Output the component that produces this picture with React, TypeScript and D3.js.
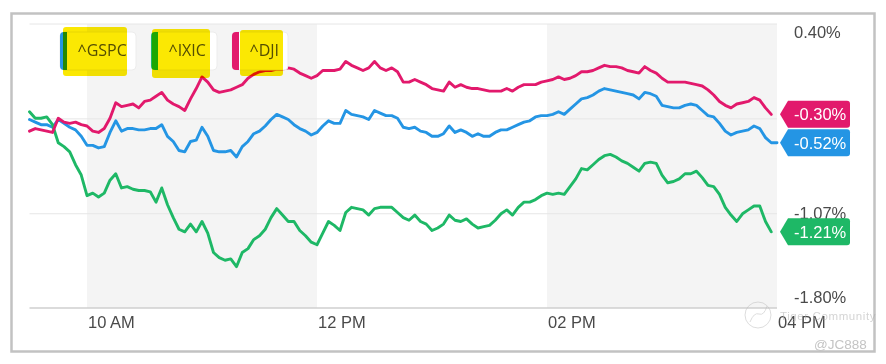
import * as d3 from 'd3';

// intraday % change, one reading every 3 minutes from 9:30
const minutes = d3.range(0, 391, 3);

const gspc = [
  -0.34, -0.36, -0.38, -0.38, -0.40, -0.34, -0.37, -0.40, -0.42, -0.47,
  -0.54, -0.54, -0.56, -0.55, -0.44, -0.35, -0.43, -0.41, -0.41, -0.42,
  -0.42, -0.41, -0.41, -0.38, -0.47, -0.51, -0.58, -0.59, -0.51, -0.50,
  -0.40, -0.47, -0.58, -0.59, -0.59, -0.58, -0.63, -0.55, -0.51, -0.45,
  -0.43, -0.39, -0.34, -0.30, -0.32, -0.34, -0.38, -0.41, -0.43, -0.46,
  -0.44, -0.39, -0.35, -0.37, -0.37, -0.27, -0.30, -0.31, -0.32, -0.34,
  -0.27, -0.29, -0.31, -0.31, -0.33, -0.40, -0.41, -0.40, -0.43, -0.44,
  -0.47, -0.47, -0.45, -0.39, -0.44, -0.42, -0.44, -0.47, -0.45, -0.47,
  -0.47, -0.44, -0.42, -0.42, -0.40, -0.38, -0.36, -0.35, -0.32, -0.31,
  -0.31, -0.30, -0.28, -0.30, -0.26, -0.22, -0.18, -0.17, -0.15, -0.12,
  -0.10, -0.11, -0.12, -0.13, -0.14, -0.15, -0.18, -0.13, -0.14, -0.16,
  -0.23, -0.24, -0.25, -0.25, -0.23, -0.22, -0.23, -0.27, -0.31, -0.32,
  -0.37, -0.43, -0.46, -0.44, -0.43, -0.42, -0.39, -0.41, -0.48, -0.52,
  -0.52,
];

const ixic = [
  -0.28, -0.33, -0.33, -0.32, -0.38, -0.52, -0.55, -0.59, -0.69, -0.77,
  -0.93, -0.91, -0.94, -0.91, -0.81, -0.76, -0.87, -0.86, -0.88, -0.89,
  -0.89, -0.90, -0.98, -0.87, -1.00, -1.10, -1.19, -1.21, -1.15, -1.21,
  -1.13, -1.22, -1.37, -1.41, -1.43, -1.42, -1.48, -1.37, -1.34, -1.27,
  -1.24, -1.19, -1.10, -1.03, -1.08, -1.13, -1.13, -1.20, -1.24, -1.29,
  -1.31, -1.22, -1.13, -1.16, -1.20, -1.06, -1.02, -1.03, -1.04, -1.08,
  -1.03, -1.02, -1.02, -1.02, -1.06, -1.10, -1.12, -1.08, -1.13, -1.15,
  -1.20, -1.18, -1.15, -1.08, -1.12, -1.13, -1.11, -1.15, -1.18, -1.17,
  -1.16, -1.12, -1.07, -1.04, -1.08, -1.02, -0.98, -0.98, -0.96, -0.93,
  -0.91, -0.92, -0.91, -0.92, -0.86, -0.80, -0.72, -0.73, -0.69, -0.65,
  -0.62, -0.61, -0.63, -0.66, -0.68, -0.71, -0.74, -0.68, -0.67, -0.68,
  -0.77, -0.83, -0.82, -0.80, -0.76, -0.76, -0.74, -0.79, -0.85, -0.86,
  -0.92, -1.02, -1.08, -1.13, -1.07, -1.04, -1.01, -1.01, -1.13, -1.21,
];

const dji = [
  -0.43, -0.41, -0.42, -0.43, -0.44, -0.33, -0.36, -0.37, -0.36, -0.38,
  -0.39, -0.43, -0.44, -0.41, -0.33, -0.21, -0.24, -0.23, -0.22, -0.25,
  -0.20, -0.19, -0.16, -0.13, -0.19, -0.22, -0.24, -0.27, -0.18, -0.10,
  -0.01, -0.05, -0.11, -0.13, -0.12, -0.11, -0.09, -0.07, -0.02, 0.01,
  0.03, 0.04, 0.04, 0.05, 0.05, 0.06, 0.05, 0.02, 0.0, -0.02,
  0.0, 0.04, 0.04, 0.04, 0.05, 0.11, 0.08, 0.06, 0.04, 0.06,
  0.11, 0.06, 0.04, 0.06, 0.03, -0.05, -0.05, -0.03, -0.05, -0.07,
  -0.10, -0.11, -0.12, -0.05, -0.09, -0.07, -0.09, -0.10, -0.10, -0.11,
  -0.12, -0.12, -0.12, -0.10, -0.12, -0.09, -0.07, -0.07, -0.07, -0.05,
  -0.04, -0.03, -0.01, -0.03, -0.02, 0.0, 0.03, 0.03, 0.04, 0.06,
  0.08, 0.07, 0.07, 0.06, 0.04, 0.03, 0.02, 0.07, 0.04, 0.02,
  -0.02, -0.05, -0.05, -0.05, -0.05, -0.06, -0.07, -0.08, -0.11, -0.15,
  -0.20, -0.23, -0.25, -0.22, -0.21, -0.20, -0.17, -0.19, -0.25, -0.30,
];

const seriesNames = ['^GSPC', '^IXIC', '^DJI'];
const seriesColors = ['#2495e4', '#1eb866', '#e2196c'];
const seriesData = [gspc, ixic, dji];
const lastLabels = ['-0.52%', '-1.21%', '-0.30%'];

const xTickMinutes = [30, 150, 270, 390];
const xTickLabels = ['10 AM', '12 PM', '02 PM', '04 PM'];
const shadedRanges = [[30, 150], [270, 390]];

const yGrid = [0.4, -0.335, -1.07];
const yTicks = [0.4, -1.07, -1.8];
const yTickLabels = ['0.40%', '-1.07%', '-1.80%'];

const W = 886;
const H = 364;
const plot = { left: 29.5, right: 777, top: 24, bottom: 308 };
const axisFont = '"Liberation Sans", Arial, sans-serif';

// legend chip layout: left edge, width
const chipX = [60, 151, 232];
const chipW = [76, 66, 56];
// hand drawn marker boxes over the legend
const marks = [
  [63, 27, 64, 49],
  [152, 29, 58, 49],
  [240, 30, 43, 46],
];

export default function App() {
  const x = d3.scaleLinear().domain([0, 390]).range([plot.left, plot.right]);
  const y = d3.scaleLinear().domain([0.4, -1.8]).range([plot.top, plot.bottom]);

  const line = d3
    .line<number>()
    .x((d, i) => x(minutes[i]))
    .y((d) => y(d));

  const badge = (cy: number) => {
    const h = 13.5;
    const tip = plot.right + 3;
    const l = tip + 8;
    const r = 850;
    return `M${tip},${cy} L${l},${cy - h} L${r - 3},${cy - h} Q${r},${cy - h} ${r},${cy - h + 3} L${r},${cy + h - 3} Q${r},${cy + h} ${r - 3},${cy + h} L${l},${cy + h} Z`;
  };

  return (
    <div style={{ position: 'absolute', left: 0, top: 0 }}>
      <svg width={W} height={H} style={{ display: 'block', background: '#fff' }}>
        <rect x={11.5} y={13.5} width={863} height={338} fill="#fff" stroke="#c2c2c2" strokeWidth={2.5} />

        {shadedRanges.map(([a, b], i) => (
          <rect key={i} x={x(a)} y={plot.top} width={x(b) - x(a)} height={plot.bottom - plot.top} fill="#f4f4f4" />
        ))}

        {yGrid.map((v, i) => (
          <line key={i} x1={plot.left} x2={plot.right} y1={y(v)} y2={y(v)} stroke="#e6e6e6" strokeWidth={1} />
        ))}
        <line x1={plot.left} x2={plot.right} y1={plot.bottom} y2={plot.bottom} stroke="#cfcfcf" strokeWidth={1.5} />

        {xTickMinutes.map((m, i) => (
          <text key={i} x={x(m) + 1} y={328} fontFamily={axisFont} fontSize={16.5} fill="#4a4a4a">
            {xTickLabels[i]}
          </text>
        ))}

        {yTicks.map((v, i) => {
          const cy = Math.min(Math.max(y(v), plot.top + 8.5), plot.bottom - 10);
          return (
            <text key={i} x={794} y={cy + 5.3} fontFamily={axisFont} fontSize={16.5} fill="#4a4a4a">
              {yTickLabels[i]}
            </text>
          );
        })}

        {/* watermark */}
        <g opacity={0.5}>
          <circle cx={758} cy={315} r={13} fill="none" stroke="#bbb" strokeWidth={1} />
          <path d="M750,322 q4,-10 9,-8 q5,2 8,-8" fill="none" stroke="#bbb" strokeWidth={1} />
          <text x={780} y={320} fontFamily={axisFont} fontSize={11.5} fill="#aaa" letterSpacing={0.6}>
            Tiger Community
          </text>
        </g>
        <text x={814} y={349} fontFamily={axisFont} fontSize={13.5} fill="#c4c4c4">
          @JC888
        </text>

        {seriesData.map((data, i) => (
          <path
            key={seriesNames[i]}
            d={line(data) || ''}
            fill="none"
            stroke={seriesColors[i]}
            strokeWidth={2.9}
            strokeLinejoin="round"
            strokeLinecap="round"
          />
        ))}

        {seriesData.map((data, i) => {
          const cy = y(data[data.length - 1]);
          return (
            <g key={i}>
              <path d={badge(cy)} fill={seriesColors[i]} />
              <text x={794} y={cy + 6} fontFamily={axisFont} fontSize={16.5} fill="#fff">
                {lastLabels[i]}
              </text>
            </g>
          );
        })}

        {seriesNames.map((name, i) => (
          <g key={name}>
            <rect x={chipX[i]} y={32} width={chipW[i]} height={38} rx={4} fill="#fff" stroke="#ececec" strokeWidth={1} />
            <path
              d={`M${chipX[i] + 4},32 L${chipX[i] + 7},32 L${chipX[i] + 7},70 L${chipX[i] + 4},70 Q${chipX[i]},70 ${chipX[i]},66 L${chipX[i]},36 Q${chipX[i]},32 ${chipX[i] + 4},32 Z`}
              fill={seriesColors[i]}
            />
            <text x={chipX[i] + 17.5} y={56} fontFamily='"Open Sans", sans-serif' fontSize={16} fill="#555">
              {name}
            </text>
            <rect
              x={marks[i][0]}
              y={marks[i][1]}
              width={marks[i][2]}
              height={marks[i][3]}
              rx={3}
              fill="#fbe803"
              style={{ mixBlendMode: 'multiply' }}
            />
          </g>
        ))}
      </svg>
    </div>
  );
}
